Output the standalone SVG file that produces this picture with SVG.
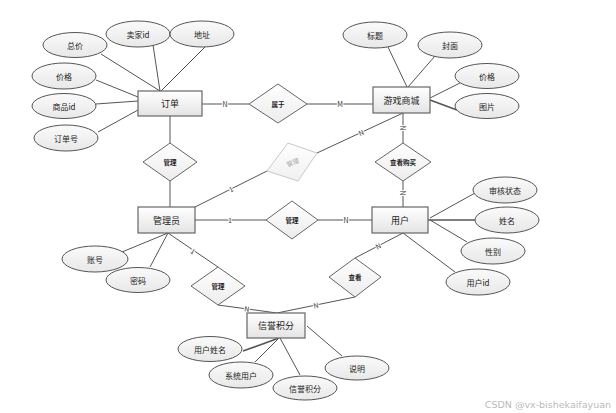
<svg xmlns="http://www.w3.org/2000/svg" width="616" height="413" viewBox="0 0 616 413">
<defs>
<linearGradient id="gRect" x1="0" y1="0" x2="0" y2="1"><stop offset="0" stop-color="#ffffff"/><stop offset="1" stop-color="#e4e4e4"/></linearGradient>
<linearGradient id="gEll" x1="0" y1="0" x2="0" y2="1"><stop offset="0" stop-color="#fafafa"/><stop offset="1" stop-color="#e8e8e8"/></linearGradient>
<linearGradient id="gDia" x1="0" y1="0" x2="0" y2="1"><stop offset="0" stop-color="#ffffff"/><stop offset="1" stop-color="#ececec"/></linearGradient>
<linearGradient id="gFade" x1="0" y1="0" x2="0" y2="1"><stop offset="0" stop-color="#ffffff"/><stop offset="1" stop-color="#f0f0f0"/></linearGradient>
</defs>
<style>
text{font-family:"Noto Sans CJK SC","Liberation Sans",sans-serif;fill:#222;text-anchor:middle;dominant-baseline:central}
.ent rect{fill:url(#gRect);stroke:#666;stroke-width:1.2}
.ent text{font-size:9px}
.att ellipse{fill:url(#gEll);stroke:#555;stroke-width:1}
.att text{font-size:8px}
.rel polygon{fill:url(#gDia);stroke:#666;stroke-width:1}
.rel text{font-size:6.5px;font-weight:bold}
.fade polygon{fill:url(#gFade);stroke:#c8c8c8;stroke-width:1}
.fade text{font-size:6.5px;fill:#aaa}
#connectors line{stroke:#555;stroke-width:1}
#connectors .thick{stroke-width:1.6}
.lbl{font-size:7px;fill:#333;paint-order:stroke;stroke:#fff;stroke-width:2px}
.wm{font-family:"DejaVu Sans","Liberation Sans",sans-serif;font-size:9.5px;fill:#bbb;text-anchor:end}
</style>
<rect x="0" y="0" width="616" height="413" fill="#fff"/>
<g id="connectors">
<!-- 订单 attributes -->
<line x1="101" y1="54" x2="160" y2="91"/>
<line x1="153" y1="45" x2="160" y2="91"/>
<line x1="205" y1="47" x2="161" y2="91"/>
<line x1="96" y1="80" x2="138" y2="97"/>
<line x1="96" y1="104" x2="138" y2="101"/>
<line x1="98" y1="132" x2="138" y2="110"/>
<!-- 游戏商城 attributes -->
<line x1="388" y1="47" x2="407" y2="87"/>
<line x1="435" y1="56" x2="408" y2="87"/>
<line x1="460" y1="83" x2="430" y2="98"/>
<line class="thick" x1="457" y1="110" x2="430" y2="100"/>
<!-- 用户 attributes -->
<line x1="430" y1="218" x2="475" y2="193"/>
<line class="thick" x1="428" y1="220" x2="475" y2="220"/>
<line x1="430" y1="220" x2="467" y2="242"/>
<line x1="403" y1="233" x2="455" y2="272"/>
<!-- 管理员 attributes -->
<line x1="122" y1="252" x2="168" y2="233"/>
<line x1="150" y1="267" x2="168" y2="233"/>
<!-- 信誉积分 attributes -->
<line class="thick" x1="243" y1="351" x2="279" y2="338"/>
<line x1="255" y1="362" x2="279" y2="338"/>
<line x1="300" y1="375" x2="280" y2="338"/>
<line x1="307" y1="326" x2="342" y2="356"/>
<!-- relationships -->
<line x1="202" y1="104" x2="249" y2="104"/>
<line x1="307" y1="104" x2="373" y2="104"/>
<line x1="170" y1="116" x2="170" y2="143"/>
<line x1="170" y1="181" x2="170" y2="207"/>
<line x1="403" y1="113" x2="403" y2="143"/>
<line x1="403" y1="181" x2="403" y2="207"/>
<line x1="317" y1="153" x2="403" y2="113"/>
<line x1="267" y1="171" x2="195" y2="207"/>
<line x1="195" y1="220" x2="266" y2="220"/>
<line x1="318" y1="220" x2="372" y2="220"/>
<line x1="403" y1="233" x2="355" y2="258"/>
<line x1="355" y1="297" x2="277" y2="313"/>
<line x1="168" y1="233" x2="218" y2="267"/>
<line x1="218" y1="305" x2="277" y2="313"/>
<!-- cardinality labels -->
<text class="lbl" x="225" y="104">N</text>
<text class="lbl" x="340" y="104">M</text>
<text class="lbl" transform="translate(403,128) rotate(90)">N</text>
<text class="lbl" transform="translate(403,193) rotate(90)">N</text>
<text class="lbl" transform="translate(361,132.5) rotate(-25)">N</text>
<text class="lbl" transform="translate(231,189) rotate(-26.5)">1</text>
<text class="lbl" x="230" y="220">1</text>
<text class="lbl" x="346" y="220">N</text>
<text class="lbl" transform="translate(378,246) rotate(-27.5)">N</text>
<text class="lbl" transform="translate(193,251) rotate(34)">1</text>
<text class="lbl" transform="translate(247,308.5) rotate(7.7)">N</text>
<text class="lbl" transform="translate(316,305) rotate(-11.6)">N</text>
</g>
<g id="order" class="ent"><rect x="138" y="91" width="64" height="25"/><text x="170" y="103.5">订单</text></g>
<g id="mall" class="ent"><rect x="373" y="87" width="57" height="26"/><text x="401.5" y="100">游戏商城</text></g>
<g id="admin" class="ent"><rect x="138" y="207" width="57" height="26"/><text x="166.5" y="220">管理员</text></g>
<g id="user" class="ent"><rect x="372" y="207" width="56" height="26"/><text x="400" y="220">用户</text></g>
<g id="credit" class="ent"><rect x="247" y="313" width="58" height="25"/><text x="276" y="325.5">信誉积分</text></g>

<g id="r-belong" class="rel"><polygon points="278,84 307,104 278,123 249,104"/><text x="278" y="104">属于</text></g>
<g id="r-manage1" class="rel"><polygon points="170,143 197,162 170,181 143,162"/><text x="170" y="162">管理</text></g>
<g id="r-manage-fade" class="fade"><polygon points="288,143 317,153 298,181 267,171"/><text transform="translate(292.5,162) rotate(-20)">管理</text></g>
<g id="r-manage2" class="rel"><polygon points="292,201 318,220 292,239 266,220"/><text x="292" y="220">管理</text></g>
<g id="r-buy" class="rel"><polygon points="403,143 431,162 403,181 375,162"/><text x="403" y="162">查看购买</text></g>
<g id="r-manage3" class="rel"><polygon points="218,267 245,286 218,305 191,286"/><text x="218" y="286">管理</text></g>
<g id="r-view" class="rel"><polygon points="355,258 381,277 355,297 329,277"/><text x="355" y="277">查看</text></g>

<g id="a-total" class="att"><ellipse cx="75" cy="45" rx="32" ry="12.5"/><text x="75" y="45">总价</text></g>
<g id="a-seller" class="att"><ellipse cx="138" cy="34" rx="32" ry="13"/><text x="138" y="34">卖家id</text></g>
<g id="a-addr" class="att"><ellipse cx="202" cy="34" rx="32" ry="13"/><text x="202" y="34">地址</text></g>
<g id="a-price1" class="att"><ellipse cx="64" cy="76" rx="32" ry="13"/><text x="64" y="76">价格</text></g>
<g id="a-goods" class="att"><ellipse cx="64" cy="106" rx="32" ry="12.5"/><text x="64" y="106">商品id</text></g>
<g id="a-orderno" class="att"><ellipse cx="66" cy="138" rx="32" ry="13"/><text x="66" y="138">订单号</text></g>

<g id="a-title" class="att"><ellipse cx="375" cy="35" rx="32" ry="13"/><text x="375" y="35">标题</text></g>
<g id="a-cover" class="att"><ellipse cx="450" cy="45" rx="32" ry="13"/><text x="450" y="45">封面</text></g>
<g id="a-price2" class="att"><ellipse cx="487" cy="76" rx="32" ry="12.5"/><text x="487" y="76">价格</text></g>
<g id="a-pic" class="att"><ellipse cx="487" cy="106" rx="32" ry="12.5"/><text x="487" y="106">图片</text></g>

<g id="a-audit" class="att"><ellipse cx="505" cy="190" rx="32" ry="13"/><text x="505" y="190">审核状态</text></g>
<g id="a-name" class="att"><ellipse cx="507" cy="220" rx="32" ry="13"/><text x="507" y="220">姓名</text></g>
<g id="a-sex" class="att"><ellipse cx="493" cy="251" rx="32" ry="13"/><text x="493" y="251">性别</text></g>
<g id="a-uid" class="att"><ellipse cx="478" cy="282" rx="32" ry="13"/><text x="478" y="282">用户id</text></g>

<g id="a-account" class="att"><ellipse cx="95" cy="259" rx="33" ry="13"/><text x="95" y="259">账号</text></g>
<g id="a-pwd" class="att"><ellipse cx="138" cy="280" rx="32" ry="12.5"/><text x="138" y="280">密码</text></g>

<g id="a-uname" class="att"><ellipse cx="210" cy="349" rx="32" ry="12.5"/><text x="210" y="349">用户姓名</text></g>
<g id="a-sysuser" class="att"><ellipse cx="241" cy="375" rx="32" ry="13"/><text x="241" y="375">系统用户</text></g>
<g id="a-credit" class="att"><ellipse cx="305" cy="388" rx="32" ry="12"/><text x="305" y="388">信誉积分</text></g>
<g id="a-desc" class="att"><ellipse cx="357" cy="368" rx="32" ry="12"/><text x="357" y="368">说明</text></g>

<text class="wm" x="611" y="404">CSDN @vx-bishekaifayuan</text>
</svg>
